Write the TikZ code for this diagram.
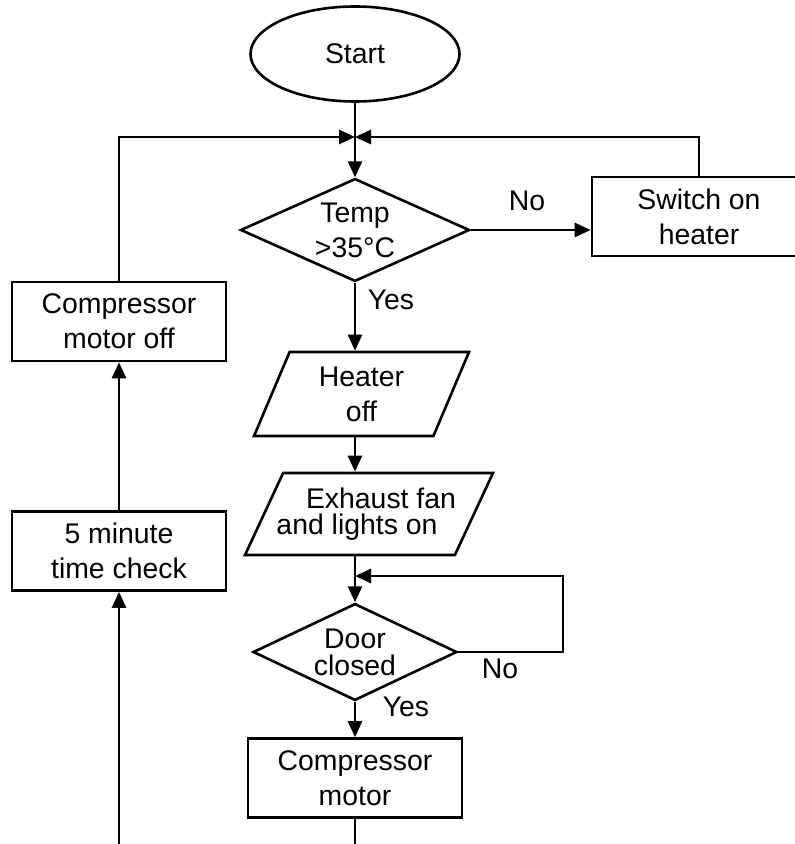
\documentclass[tikz,border=0pt]{standalone}
\usepackage{fontspec}
\setmainfont{Liberation Sans}
\usetikzlibrary{arrows.meta,shapes.geometric}

\begin{document}
\begin{tikzpicture}[
  x=0.5pt, y=-0.5pt,
  font=\fontsize{14.2}{17.5}\selectfont,
  >={Triangle[length=8pt,width=7pt]},
  line width=1.3pt,
  term/.style={draw, ellipse, minimum width=104.5pt, minimum height=47.5pt, inner sep=0pt},
  decide/.style={draw, diamond, align=center, inner sep=-4pt, minimum width=114.5pt, minimum height=51pt},
  io/.style={draw, trapezium, trapezium left angle=57, trapezium right angle=123, trapezium stretches body, align=center, inner sep=0pt, minimum width=107.5pt, minimum height=42pt},
  proc/.style={draw, rectangle, align=center, minimum width=107pt, minimum height=39.5pt},
  lbl/.style={inner sep=0pt},
  arr/.style={->}
]
\useasboundingbox (0,0) rectangle (795,844);
\clip (0,0) rectangle (795,844);

% main column
\node[term] (start) at (355,54) {Start};
\node[decide] (temp) at (355,230) {Temp\\>35°C};
\node[io] (heatoff) at (361.5,394) {Heater\\off};
\node[io, minimum width=124pt, minimum height=41pt, inner xsep=-10pt, trapezium left angle=54, trapezium right angle=126] (fan) at (369,514) {\hspace*{12pt}Exhaust fan\\[-4.5pt]and lights on\hspace*{12pt}};
\node[decide, minimum width=102pt, minimum height=45pt] (door) at (355,652) {Door\\[-4pt]closed};
\node[proc] (comp) at (355,778) {Compressor\\motor};

% side boxes
\node[proc] (heaton) at (699,216.5) {Switch on\\heater};
\node[proc] (compoff) at (119,321.5) {Compressor\\motor off};
\node[proc] (timer) at (119,551) {5 minute\\time check};

% branch labels
\node[lbl] (tno) at (527,201) {No};
\node[lbl] (tyes) at (391,300) {Yes};
\node[lbl] (dno) at (500,669) {No};
\node[lbl] (dyes) at (406,707) {Yes};

\coordinate (join) at (355,137);
\coordinate (dloop) at (563,576);
\coordinate (endR) at (355,850);
\coordinate (endL) at (119,850);

\draw[arr] (start) -- (temp);
\draw[arr] (compoff.north) |- (join);
\draw[arr] (heaton.north) |- (join);
\draw[arr] (temp.east) -- (temp.east -| heaton.west);
\draw[arr] (temp.south) -- (temp.south |- heatoff.north);
\draw[arr] (temp.south |- heatoff.south) -- (temp.south |- fan.north);
\draw[arr] (door.north |- fan.south) -- (door.north);
\draw[arr] (door.east) -| (dloop) -- (door.north |- dloop);
\draw[arr] (door.south) -- (comp.north);
\draw (comp.south) -- (endR);
\draw[arr] (endL) -- (timer.south);
\draw[arr] (timer) -- (compoff);
\end{tikzpicture}
\end{document}
